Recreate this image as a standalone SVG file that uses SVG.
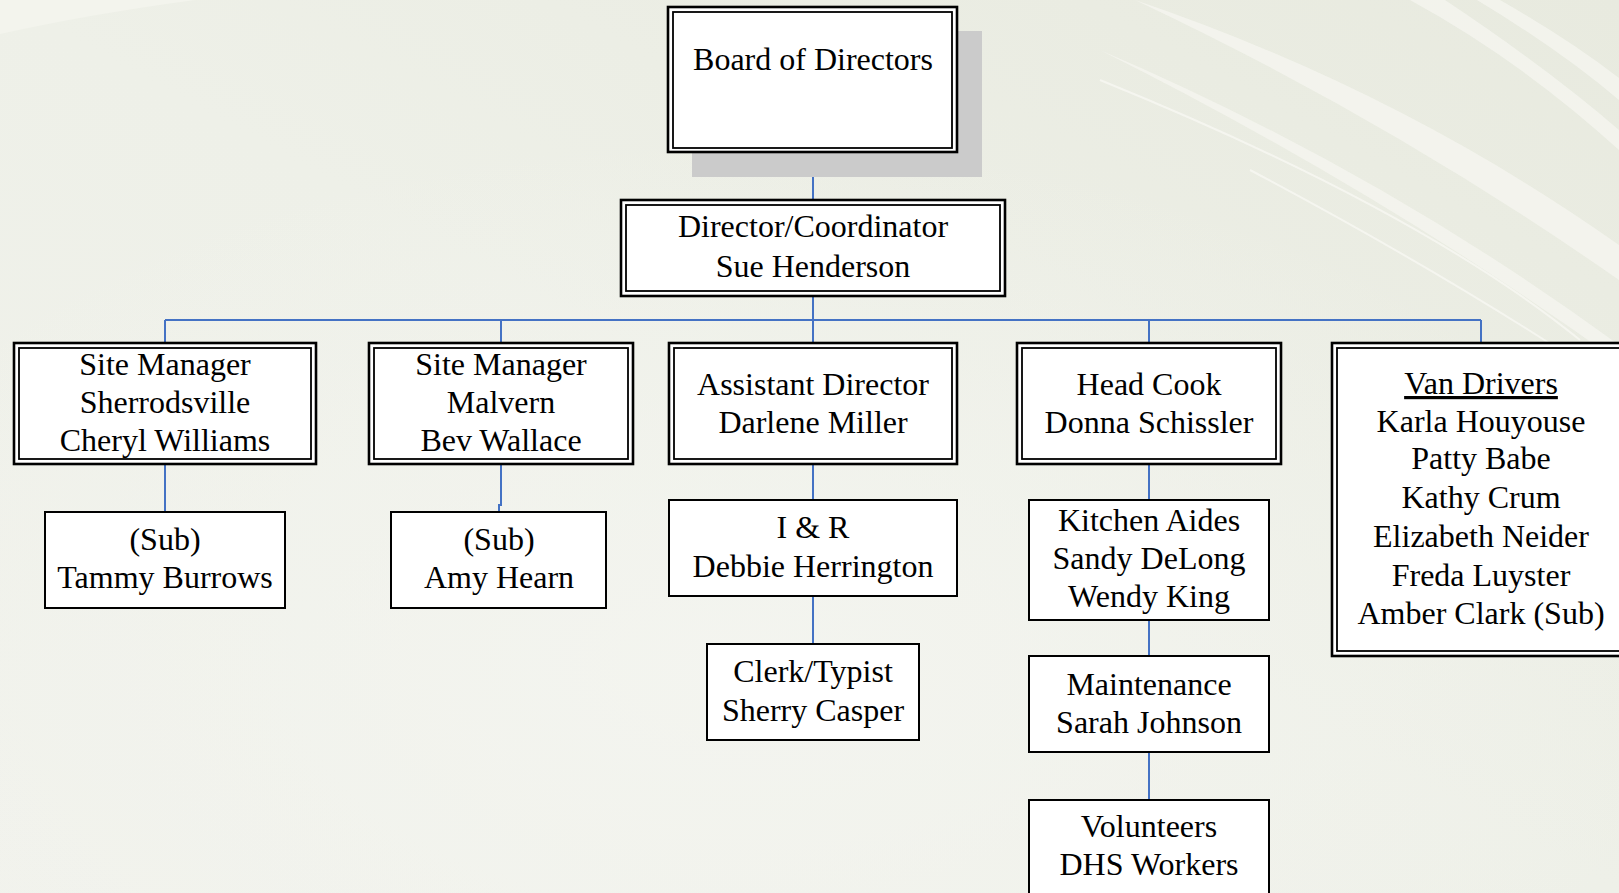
<svg xmlns="http://www.w3.org/2000/svg" width="1619" height="893" viewBox="0 0 1619 893">
<defs>
<linearGradient id="bg" x1="0" y1="1" x2="1" y2="0">
<stop offset="0" stop-color="#f1f2ec"/>
<stop offset="0.5" stop-color="#eef0e8"/>
<stop offset="1" stop-color="#e8eadf"/>
</linearGradient>
<radialGradient id="glow" cx="0.45" cy="0.75" r="0.6">
<stop offset="0" stop-color="#f4f5f0" stop-opacity="0.9"/>
<stop offset="1" stop-color="#f4f5f0" stop-opacity="0"/>
</radialGradient>
</defs>
<style>
.bg{fill:url(#bg)}
.sw{fill:#f5f6f0;opacity:0.75}
.swl{fill:none;stroke:#f7f8f3;stroke-width:2;opacity:0.8}
.outer{fill:#ffffff;stroke:#000;stroke-width:2.6}
.inner{fill:#ffffff;stroke:#000;stroke-width:1.8}
.box{fill:#ffffff;stroke:#000;stroke-width:2}
.shadow{fill:#cbcbcb}
.conn{fill:none;stroke:#4472c4;stroke-width:2}
text{font-family:"Liberation Serif","Times New Roman",serif;font-size:32px;fill:#000;text-anchor:middle}
</style>
<g id="background">
<rect class="bg" x="0" y="0" width="1619" height="893"/>
<rect x="0" y="0" width="1619" height="893" fill="url(#glow)"/>
<path fill="#f3f4ed" d="M0 0 H195 Q90 14 0 34 Z"/>
<path class="sw" d="M1410 0 H1445 Q1550 70 1619 130 V150 Q1520 60 1410 0 Z"/>
<path class="sw" d="M1477 0 H1500 Q1570 40 1619 78 V100 Q1560 50 1477 0 Z"/>
<path class="sw" d="M1135 0 Q1400 90 1619 245 V280 Q1390 120 1135 0 Z"/>
<path class="sw" d="M1100 50 Q1380 170 1619 345 V362 Q1380 190 1100 50 Z"/>
<path class="swl" d="M1100 80 Q1420 210 1580 340"/>
<path class="swl" d="M1250 170 Q1420 260 1560 350"/>
</g>
<g id="connectors">
<path class="conn" d="M813 152 V200"/>
<path class="conn" d="M813 296 V320"/>
<path class="conn" d="M165 320 H1481"/>
<path class="conn" d="M165 320 V343"/>
<path class="conn" d="M501 320 V343"/>
<path class="conn" d="M813 320 V343"/>
<path class="conn" d="M1149 320 V343"/>
<path class="conn" d="M1481 320 V343"/>
<path class="conn" d="M165 464 V512"/>
<path class="conn" d="M501 464 V505 H499 V512"/>
<path class="conn" d="M813 464 V500"/>
<path class="conn" d="M813 596 V644"/>
<path class="conn" d="M1149 464 V500"/>
<path class="conn" d="M1149 620 V656"/>
<path class="conn" d="M1149 752 V800"/>
</g>
<g id="board">
<rect class="shadow" x="692" y="31" width="290" height="146"/>
<rect class="outer" x="668" y="7" width="289" height="145"/>
<rect class="inner" x="673" y="12" width="279" height="136"/>
<text x="813" y="70">Board of Directors</text>
</g>
<g id="director">
<rect class="outer" x="621" y="200" width="384" height="96"/>
<rect class="inner" x="626" y="205" width="374" height="86"/>
<text x="813" y="237">Director/Coordinator</text>
<text x="813" y="277">Sue Henderson</text>
</g>
<g id="site-sherrodsville">
<rect class="outer" x="14" y="343" width="302" height="121"/>
<rect class="inner" x="19" y="348" width="292" height="111"/>
<text x="165" y="375">Site Manager</text>
<text x="165" y="413">Sherrodsville</text>
<text x="165" y="451">Cheryl Williams</text>
</g>
<g id="site-malvern">
<rect class="outer" x="369" y="343" width="264" height="121"/>
<rect class="inner" x="374" y="348" width="254" height="111"/>
<text x="501" y="375">Site Manager</text>
<text x="501" y="413">Malvern</text>
<text x="501" y="451">Bev Wallace</text>
</g>
<g id="assistant-director">
<rect class="outer" x="669" y="343" width="288" height="121"/>
<rect class="inner" x="674" y="348" width="278" height="111"/>
<text x="813" y="395">Assistant Director</text>
<text x="813" y="433">Darlene Miller</text>
</g>
<g id="head-cook">
<rect class="outer" x="1017" y="343" width="264" height="121"/>
<rect class="inner" x="1022" y="348" width="254" height="111"/>
<text x="1149" y="395">Head Cook</text>
<text x="1149" y="433">Donna Schissler</text>
</g>
<g id="van-drivers">
<rect class="outer" x="1332" y="343" width="310" height="313"/>
<rect class="inner" x="1337" y="348" width="300" height="303"/>
<text x="1481" y="394" text-decoration="underline">Van Drivers</text>
<text x="1481" y="432">Karla Houyouse</text>
<text x="1481" y="469">Patty Babe</text>
<text x="1481" y="508">Kathy Crum</text>
<text x="1481" y="547">Elizabeth Neider</text>
<text x="1481" y="586">Freda Luyster</text>
<text x="1481" y="624">Amber Clark (Sub)</text>
</g>
<g id="sub-tammy">
<rect class="box" x="45" y="512" width="240" height="96"/>
<text x="165" y="550">(Sub)</text>
<text x="165" y="588">Tammy Burrows</text>
</g>
<g id="sub-amy">
<rect class="box" x="391" y="512" width="215" height="96"/>
<text x="499" y="550">(Sub)</text>
<text x="499" y="588">Amy Hearn</text>
</g>
<g id="i-and-r">
<rect class="box" x="669" y="500" width="288" height="96"/>
<text x="813" y="538">I &amp; R</text>
<text x="813" y="577">Debbie Herrington</text>
</g>
<g id="clerk">
<rect class="box" x="707" y="644" width="212" height="96"/>
<text x="813" y="682">Clerk/Typist</text>
<text x="813" y="721">Sherry Casper</text>
</g>
<g id="kitchen-aides">
<rect class="box" x="1029" y="500" width="240" height="120"/>
<text x="1149" y="531">Kitchen Aides</text>
<text x="1149" y="569">Sandy DeLong</text>
<text x="1149" y="607">Wendy King</text>
</g>
<g id="maintenance">
<rect class="box" x="1029" y="656" width="240" height="96"/>
<text x="1149" y="695">Maintenance</text>
<text x="1149" y="733">Sarah Johnson</text>
</g>
<g id="volunteers">
<rect class="box" x="1029" y="800" width="240" height="110"/>
<text x="1149" y="837">Volunteers</text>
<text x="1149" y="875">DHS Workers</text>
</g>
</svg>
